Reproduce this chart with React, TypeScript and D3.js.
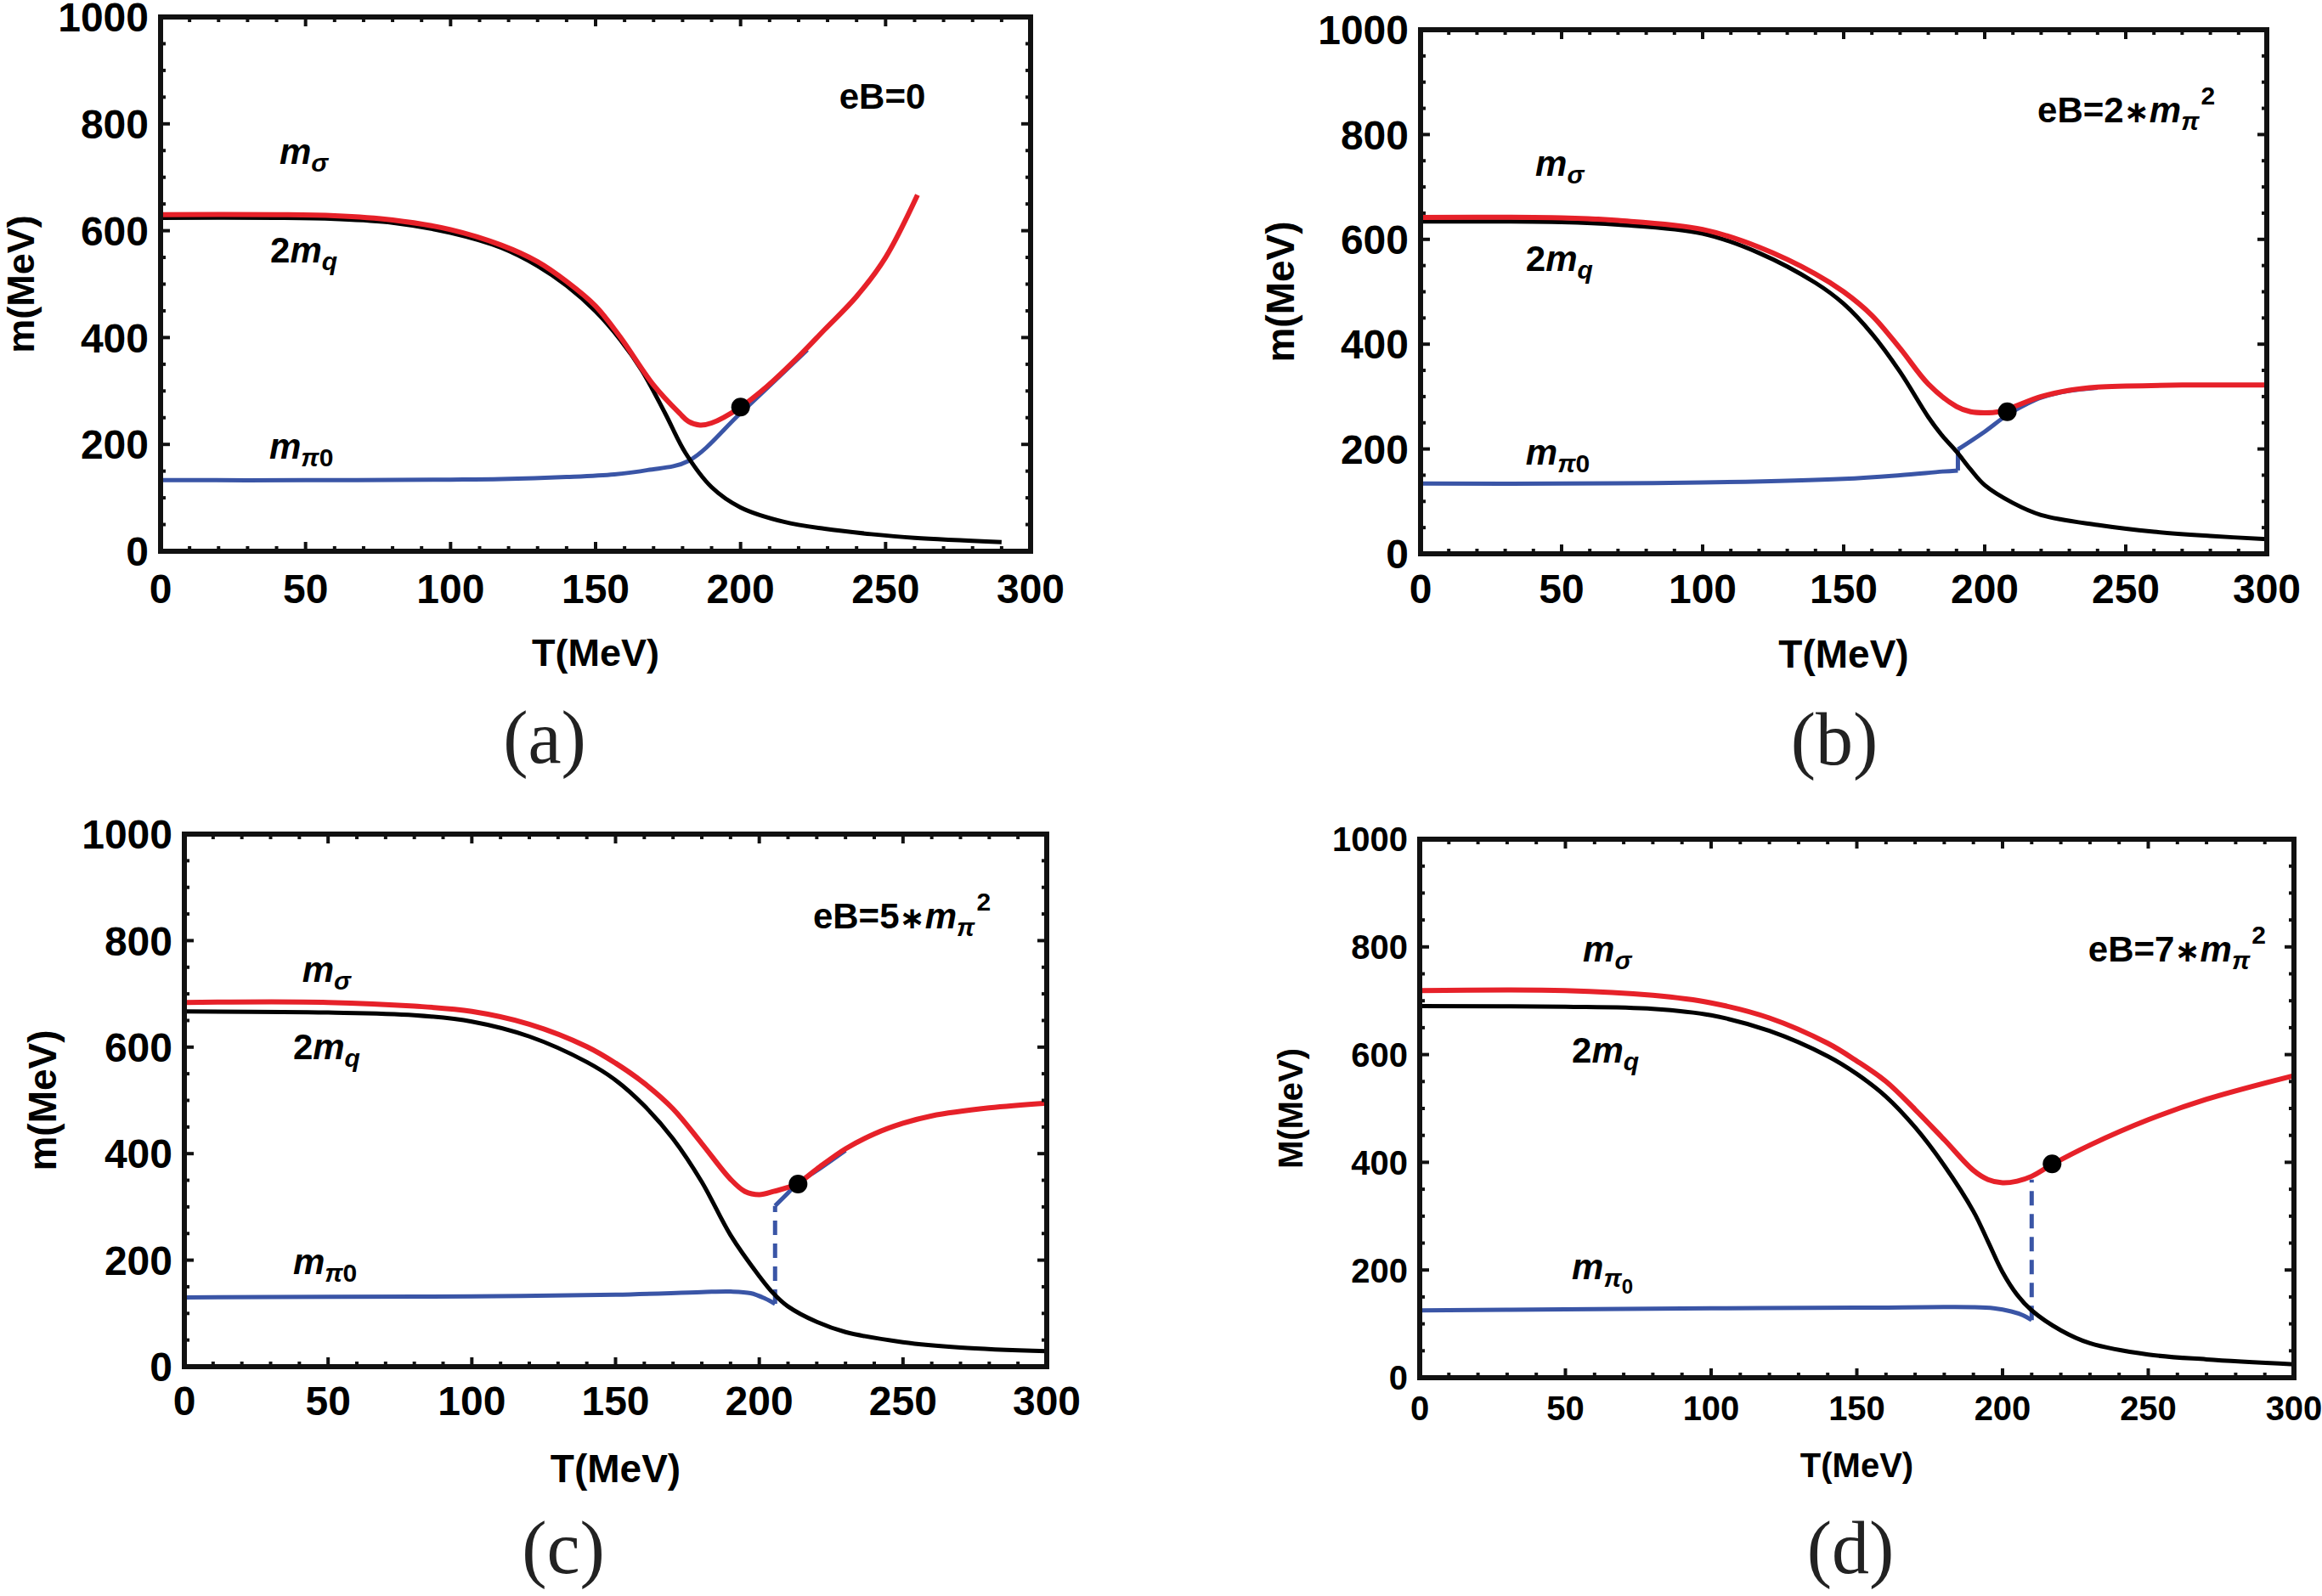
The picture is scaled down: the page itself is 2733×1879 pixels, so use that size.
import * as d3 from "d3";

type Pt = [number, number];

// (a) eB = 0
const sigmaA: Pt[] = [[0, 630], [40, 630], [60, 628], [80, 620], [100, 602], [117.5, 573], [130, 542], [140, 505], [150, 459], [158.5, 401], [170, 311], [179, 258], [182, 243], [186, 236], [190, 240], [199.5, 268], [209, 308], [219, 359], [229, 415], [240, 477], [250, 550], [261, 667]];
const quarkA: Pt[] = [[0, 624], [40, 624], [60, 622], [80, 615], [100, 596], [117.5, 568], [130, 534], [140, 497], [150, 449], [158.5, 396], [166, 338], [174, 258], [181, 184], [190, 120], [200, 82], [215, 55], [229, 42], [245, 32], [260, 25], [290, 17]];
const pionA: Pt[] = [[0, 133], [50, 133], [100, 134], [117.5, 135], [140, 139], [156.5, 144], [168, 152], [182, 169], [199.5, 256], [212, 320], [223, 377]];
const dotA: Pt = [200, 270];

// (b) eB = 2 m_pi^2
const sigmaB: Pt[] = [[0, 642], [50, 641], [70, 636], [100, 619], [120, 585], [140, 534], [150, 500], [160, 455], [170, 392], [180, 324], [190, 281], [195, 271], [200, 269], [205, 271], [210, 280], [220, 300], [230, 312], [240, 318], [250, 320], [270, 322], [300, 322]];
const quarkB: Pt[] = [[0, 634], [50, 633], [70, 628], [100, 611], [120, 574], [140, 517], [150, 477], [160, 420], [170, 347], [180, 261], [185, 225], [190, 195], [195, 161], [200, 131], [210, 97], [220, 74], [240, 55], [260, 42], [280, 34], [300, 28]];
const pionPreB: Pt[] = [[0, 134], [50, 134], [100, 136], [150, 143], [170, 150], [185, 157], [190.5, 159]];
const pionJumpB: Pt[] = [[190.5, 159], [190.5, 199]];
const pionPostB: Pt[] = [[190.5, 199], [200, 233], [208, 265], [215, 286], [220, 298], [230, 311], [240, 317]];
const dotB: Pt = [208, 271];

// (c) eB = 5 m_pi^2
const sigmaC: Pt[] = [[0, 684], [50, 684], [80, 677], [100, 667], [120, 643], [140, 601], [150, 570], [160, 532], [170, 484], [180, 419], [190, 352], [195, 329], [200, 323], [205, 329], [213, 343], [220, 371], [230, 409], [240, 437], [250, 457], [260, 471], [280, 486], [300, 495]];
const quarkC: Pt[] = [[0, 667], [50, 665], [80, 660], [100, 648], [120, 620], [140, 572], [150, 538], [160, 490], [170, 428], [180, 347], [190, 247], [200, 170], [205, 137], [210, 113], [220, 84], [230, 65], [250, 46], [270, 36], [300, 29]];
const pionPreC: Pt[] = [[0, 130], [50, 131], [100, 132], [150, 135], [180, 140], [190, 141], [197, 138], [202, 128], [205.5, 118]];
const pionJumpC: Pt[] = [[205.5, 118], [205.5, 302]];
const pionPostC: Pt[] = [[205.5, 302], [210, 326], [213, 343], [220, 368], [230, 406]];
const dotC: Pt = [213.5, 343];

// (d) eB = 7 m_pi^2
const sigmaD: Pt[] = [[0, 719], [50, 719], [80, 710], [100, 696], [120, 668], [140, 621], [150, 588], [160, 550], [170, 498], [180, 442], [190, 385], [195, 368], [200, 362], [205, 365], [210, 374], [217, 396], [230, 432], [250, 479], [270, 517], [300, 561]];
const quarkD: Pt[] = [[0, 690], [50, 689], [80, 685], [100, 673], [120, 644], [140, 597], [150, 564], [160, 522], [170, 465], [180, 394], [190, 309], [195, 253], [200, 196], [205, 154], [210, 125], [220, 88], [230, 64], [250, 43], [270, 34], [300, 25]];
const pionPreD: Pt[] = [[0, 125], [50, 127], [100, 129], [150, 130], [190, 131], [197, 129], [203, 123], [207, 116], [210, 107]];
const pionJumpD: Pt[] = [[210, 107], [210, 368]];
const dotD: Pt = [217, 397];

const xTicks = [0, 50, 100, 150, 200, 250, 300];
const yTicks = [0, 200, 400, 600, 800, 1000];
const xMinor = d3.range(0, 301, 10);
const yMinor = d3.range(0, 1001, 50);

const RED = "#e62129";
const BLUE = "#3a55a6";
const SANS = "'Liberation Sans', Arial, sans-serif";
const SERIF = "'Liberation Serif', 'DejaVu Serif', serif";

interface PanelCfg {
    box: { left: number; right: number; top: number; bottom: number };
    sigma: Pt[];
    quark: Pt[];
    pionPre: Pt[];
    pionJump?: Pt[];
    jumpDashed?: boolean;
    pionPost?: Pt[];
    dot: Pt;
    eB: string | null; // null -> eB=0
    yTitle: string;
    tickFont: number;
    titleFont: number;
    yTitleX: number;
    xTickDy: number;
    xTitleDy: number;
    tag: string;
    tagX: number;
    tagY: number;
    sigmaAt: Pt;
    quarkAt: Pt;
    pionAt: Pt;
    eBAt: Pt;
    pionSubSub?: boolean;
}

const panels: PanelCfg[] = [
    {
        box: { left: 189, right: 1213, top: 20, bottom: 649 },
        sigma: sigmaA, quark: quarkA, pionPre: pionA, dot: dotA,
        eB: null, yTitle: "m(MeV)", tickFont: 48, titleFont: 45, yTitleX: 40,
        xTickDy: 61, xTitleDy: 135, tag: "(a)", tagX: 641, tagY: 898,
        sigmaAt: [41, 725], quarkAt: [37.8, 541], pionAt: [37.5, 173], eBAt: [234, 828],
    },
    {
        box: { left: 1672, right: 2668, top: 35, bottom: 652 },
        sigma: sigmaB, quark: quarkB, pionPre: pionPreB, pionJump: pionJumpB, pionPost: pionPostB, dot: dotB,
        eB: "2", yTitle: "m(MeV)", tickFont: 48, titleFont: 46, yTitleX: 1523,
        xTickDy: 58, xTitleDy: 134, tag: "(b)", tagX: 2159, tagY: 900,
        sigmaAt: [40.7, 721], quarkAt: [37.3, 540], pionAt: [37.3, 170], eBAt: [218.7, 823],
    },
    {
        box: { left: 217, right: 1232, top: 982, bottom: 1609 },
        sigma: sigmaC, quark: quarkC, pionPre: pionPreC, pionJump: pionJumpC, jumpDashed: true, pionPost: pionPostC, dot: dotC,
        eB: "5", yTitle: "m(MeV)", tickFont: 48, titleFont: 46, yTitleX: 66,
        xTickDy: 57, xTitleDy: 136, tag: "(c)", tagX: 663, tagY: 1852,
        sigmaAt: [41, 722], quarkAt: [37.8, 577], pionAt: [37.8, 174], eBAt: [218.7, 823],
    },
    {
        box: { left: 1671, right: 2700, top: 988, bottom: 1622 },
        sigma: sigmaD, quark: quarkD, pionPre: pionPreD, pionJump: pionJumpD, jumpDashed: true, dot: dotD,
        eB: "7", yTitle: "M(MeV)", tickFont: 40, titleFont: 40, yTitleX: 1533,
        xTickDy: 50, xTitleDy: 117, tag: "(d)", tagX: 2178, tagY: 1852,
        sigmaAt: [56, 773], quarkAt: [52.2, 585], pionAt: [52.2, 183], eBAt: [229.4, 773], pionSubSub: true,
    },
];

function Panel({ cfg }: { cfg: PanelCfg }) {
    const { left, right, top, bottom } = cfg.box;
    const x = d3.scaleLinear().domain([0, 300]).range([left, right]);
    const y = d3.scaleLinear().domain([0, 1000]).range([bottom, top]);
    const smooth = d3
        .line<Pt>()
        .x((d) => x(d[0]))
        .y((d) => y(d[1]))
        .curve(d3.curveCatmullRom.alpha(0.5));
    const straight = d3.line<Pt>().x((d) => x(d[0])).y((d) => y(d[1]));

    const lab = 42;
    const sub = 30;
    const at = (p: Pt) => ({ x: x(p[0]), y: y(p[1]) });

    return (
        <g>
            <g fill="none" strokeLinejoin="round">
                <path d={smooth(cfg.pionPre) ?? ""} stroke={BLUE} strokeWidth={5} />
                {cfg.pionJump && (
                    <path
                        d={straight(cfg.pionJump) ?? ""}
                        stroke={BLUE}
                        strokeWidth={5}
                        strokeDasharray={cfg.jumpDashed ? "17 10" : undefined}
                    />
                )}
                {cfg.pionPost && <path d={smooth(cfg.pionPost) ?? ""} stroke={BLUE} strokeWidth={5} />}
                <path d={smooth(cfg.quark) ?? ""} stroke="#000" strokeWidth={5} />
                <path d={smooth(cfg.sigma) ?? ""} stroke={RED} strokeWidth={6} />
            </g>
            <circle cx={x(cfg.dot[0])} cy={y(cfg.dot[1])} r={11} fill="#000" />

            {/* frame and ticks */}
            <rect x={left} y={top} width={right - left} height={bottom - top} fill="none" stroke="#111" strokeWidth={6} />
            {xMinor.map((t) => {
                const len = t % 50 === 0 ? 11 : 6;
                return (
                    <g key={"xt" + t} stroke="#111" strokeWidth={4}>
                        <line x1={x(t)} x2={x(t)} y1={bottom} y2={bottom - len} />
                        <line x1={x(t)} x2={x(t)} y1={top} y2={top + len} />
                    </g>
                );
            })}
            {yMinor.map((v) => {
                const len = v % 200 === 0 ? 11 : 6;
                return (
                    <g key={"yt" + v} stroke="#111" strokeWidth={4}>
                        <line x1={left} x2={left + len} y1={y(v)} y2={y(v)} />
                        <line x1={right} x2={right - len} y1={y(v)} y2={y(v)} />
                    </g>
                );
            })}

            <g fontFamily={SANS} fontWeight="bold" fill="#000">
                {xTicks.map((t) => (
                    <text key={"xl" + t} x={x(t)} y={bottom + cfg.xTickDy} fontSize={cfg.tickFont} textAnchor="middle">
                        {t}
                    </text>
                ))}
                {yTicks.map((v) => (
                    <text key={"yl" + v} x={left - 14} y={y(v) + cfg.tickFont * 0.36} fontSize={cfg.tickFont} textAnchor="end">
                        {v}
                    </text>
                ))}
                <text x={(left + right) / 2} y={bottom + cfg.xTitleDy} fontSize={cfg.titleFont} textAnchor="middle">
                    T(MeV)
                </text>
                <text
                    transform={`translate(${cfg.yTitleX},${(top + bottom) / 2}) rotate(-90)`}
                    fontSize={cfg.titleFont}
                    textAnchor="middle"
                >
                    {cfg.yTitle}
                </text>

                <text x={at(cfg.sigmaAt).x} y={at(cfg.sigmaAt).y} fontSize={lab} fontStyle="italic">
                    m<tspan fontSize={sub} dy={9}>σ</tspan>
                </text>
                <text x={at(cfg.quarkAt).x} y={at(cfg.quarkAt).y} fontSize={lab}>
                    2<tspan fontStyle="italic">m</tspan>
                    <tspan fontSize={sub} dy={9} fontStyle="italic">q</tspan>
                </text>
                {cfg.pionSubSub ? (
                    <text x={at(cfg.pionAt).x} y={at(cfg.pionAt).y} fontSize={lab} fontStyle="italic">
                        m<tspan fontSize={sub} dy={9}>π</tspan>
                        <tspan fontSize={24} dy={8} fontStyle="normal">0</tspan>
                    </text>
                ) : (
                    <text x={at(cfg.pionAt).x} y={at(cfg.pionAt).y} fontSize={lab} fontStyle="italic">
                        m<tspan fontSize={sub} dy={9}>π</tspan>
                        <tspan fontStyle="normal" fontSize={sub}>0</tspan>
                    </text>
                )}
                {cfg.eB === null ? (
                    <text x={at(cfg.eBAt).x} y={at(cfg.eBAt).y} fontSize={lab}>
                        eB=0
                    </text>
                ) : (
                    <text x={at(cfg.eBAt).x} y={at(cfg.eBAt).y} fontSize={lab}>
                        eB={cfg.eB}
                        <tspan fontFamily="'DejaVu Sans', sans-serif" fontSize={36}>∗</tspan>
                        <tspan fontStyle="italic">m</tspan>
                        <tspan fontSize={sub} dy={9} fontStyle="italic">π</tspan>
                        <tspan fontSize={sub} dy={-30} dx={2}>2</tspan>
                    </text>
                )}
            </g>

            <text x={cfg.tagX} y={cfg.tagY} fontFamily={SERIF} fontSize={88} textAnchor="middle" fill="#222">
                {cfg.tag}
            </text>
        </g>
    );
}

export default function App() {
    return (
        <div style={{ position: "absolute", left: 0, top: 0 }}>
            <svg width={2733} height={1879} viewBox="0 0 2733 1879" style={{ display: "block", background: "#fff" }}>
                <rect width={2733} height={1879} fill="#fff" />
                {panels.map((p) => (
                    <Panel key={p.tag} cfg={p} />
                ))}
            </svg>
        </div>
    );
}
